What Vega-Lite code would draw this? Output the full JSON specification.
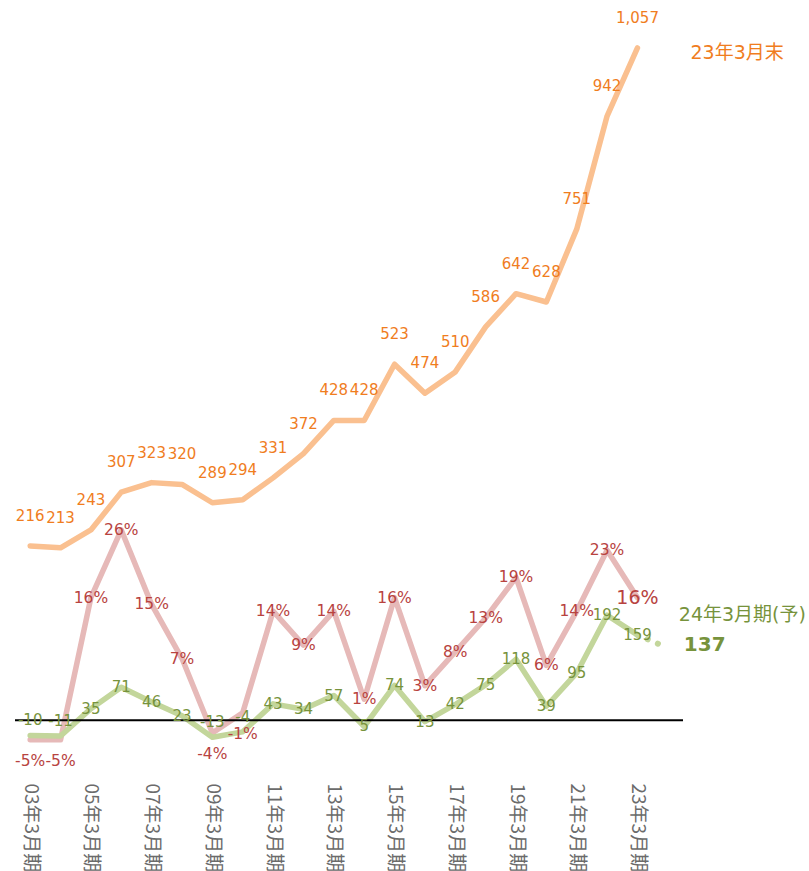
{
  "$schema": "https://vega.github.io/schema/vega-lite/v6.json",
  "autosize": {"type": "none"},
  "width": 668,
  "height": 760,
  "padding": {"left": 15, "top": 0, "right": 126, "bottom": 111},
  "background": "white",
  "config": {"view": {"stroke": null}},
  "datasets": {
    "main": [
      {"year": 2003, "total": 216, "rate": -0.05, "profit": -10},
      {"year": 2004, "total": 213, "rate": -0.05, "profit": -11},
      {"year": 2005, "total": 243, "rate": 0.16, "profit": 35},
      {"year": 2006, "total": 307, "rate": 0.26, "profit": 71},
      {"year": 2007, "total": 323, "rate": 0.15, "profit": 46},
      {"year": 2008, "total": 320, "rate": 0.07, "profit": 23},
      {"year": 2009, "total": 289, "rate": -0.04, "profit": -13},
      {"year": 2010, "total": 294, "rate": -0.01, "profit": -4},
      {"year": 2011, "total": 331, "rate": 0.14, "profit": 43},
      {"year": 2012, "total": 372, "rate": 0.09, "profit": 34},
      {"year": 2013, "total": 428, "rate": 0.14, "profit": 57},
      {"year": 2014, "total": 428, "rate": 0.01, "profit": 5},
      {"year": 2015, "total": 523, "rate": 0.16, "profit": 74},
      {"year": 2016, "total": 474, "rate": 0.03, "profit": 13},
      {"year": 2017, "total": 510, "rate": 0.08, "profit": 42},
      {"year": 2018, "total": 586, "rate": 0.13, "profit": 75},
      {"year": 2019, "total": 642, "rate": 0.19, "profit": 118},
      {"year": 2020, "total": 628, "rate": 0.06, "profit": 39},
      {"year": 2021, "total": 751, "rate": 0.14, "profit": 95},
      {"year": 2022, "total": 942, "rate": 0.23, "profit": 192},
      {"year": 2023, "total": 1057, "rate": 0.16, "profit": 159}
    ],
    "forecast": [
      {"year": 2023, "profit": 159},
      {"year": 2024, "profit": 137}
    ]
  },
  "resolve": {"scale": {"y": "independent"}},
  "layer": [
    {
      "data": {"name": "main"},
      "mark": {"type": "line", "color": "#FAC090", "strokeWidth": 5.5, "strokeCap": "round", "strokeJoin": "round"},
      "encoding": {
        "x": {"field": "year", "type": "quantitative", "scale": {"domain": [2002.5, 2024.5], "nice": false, "zero": false},
          "axis": {"values": [2003, 2005, 2007, 2009, 2011, 2013, 2015, 2017, 2019, 2021, 2023],
            "labelExpr": "slice(toString(datum.value), 2) + '年3月期'",
            "labelAngle": 90, "labelAlign": "left", "labelBaseline": "middle",
            "labelPadding": 23, "labelFontSize": 19, "labelColor": "#6b6b6b",
            "labelFont": "Noto Sans CJK JP", "labelOverlap": false, "labelFlush": false, "labelBound": false,
            "domain": false, "ticks": false, "grid": false, "title": null}},
        "y": {"field": "total", "type": "quantitative", "scale": {"domain": [-145.4, 1138], "nice": false, "zero": false}, "axis": null}
      }
    },
    {
      "data": {"name": "main"},
      "mark": {"type": "line", "color": "#E6B9B8", "strokeWidth": 5.5, "strokeCap": "round", "strokeJoin": "round"},
      "encoding": {
        "x": {"field": "year", "type": "quantitative", "scale": {"domain": [2002.5, 2024.5], "nice": false, "zero": false}},
        "y": {"field": "rate", "type": "quantitative", "scale": {"domain": [-0.0798, 1.0428], "nice": false, "zero": false}, "axis": null}
      }
    },
    {
      "data": {"name": "main"},
      "mark": {"type": "line", "color": "#C3D69B", "strokeWidth": 5.5, "strokeCap": "round", "strokeJoin": "round"},
      "encoding": {
        "x": {"field": "year", "type": "quantitative", "scale": {"domain": [2002.5, 2024.5], "nice": false, "zero": false}},
        "y": {"field": "profit", "type": "quantitative", "scale": {"domain": [-51.3, 1225.7], "nice": false, "zero": false}, "axis": null}
      }
    },
    {
      "data": {"name": "forecast"},
      "mark": {"type": "line", "color": "#C3D69B", "strokeWidth": 6, "strokeCap": "round", "strokeDash": [0.1, 11]},
      "encoding": {
        "x": {"field": "year", "type": "quantitative", "scale": {"domain": [2002.5, 2024.5], "nice": false, "zero": false}},
        "y": {"field": "profit", "type": "quantitative", "scale": {"domain": [-51.3, 1225.7], "nice": false, "zero": false}, "axis": null}
      }
    },
    {
      "data": {"values": [{"start": 2002.5, "end": 2024.5, "level": 15.6}]},
      "mark": {"type": "rule", "color": "#000000", "strokeWidth": 2},
      "encoding": {
        "x": {"field": "start", "type": "quantitative", "scale": {"domain": [2002.5, 2024.5], "nice": false, "zero": false}},
        "x2": {"field": "end"},
        "y": {"field": "level", "type": "quantitative", "scale": {"domain": [-51.3, 1225.7], "nice": false, "zero": false}, "axis": null}
      }
    },
    {
      "data": {"name": "main"},
      "transform": [{"calculate": "format(datum.total, ',')", "as": "lbl"}],
      "mark": {"type": "text", "color": "#F07D1E", "fontSize": 15, "font": "DejaVu Sans", "dy": -30, "baseline": "middle", "align": "center"},
      "encoding": {
        "x": {"field": "year", "type": "quantitative", "scale": {"domain": [2002.5, 2024.5], "nice": false, "zero": false}},
        "y": {"field": "total", "type": "quantitative", "scale": {"domain": [-145.4, 1138], "nice": false, "zero": false}, "axis": null},
        "text": {"field": "lbl", "type": "nominal"}
      }
    },
    {
      "data": {"name": "main"},
      "transform": [{"filter": "datum.rate >= 0"}, {"calculate": "toString(round(datum.rate * 100)) + '%'", "as": "lbl"}],
      "mark": {"type": "text", "color": "#B8433F", "font": "DejaVu Sans", "baseline": "middle", "align": "center"},
      "encoding": {
        "x": {"field": "year", "type": "quantitative", "scale": {"domain": [2002.5, 2024.5], "nice": false, "zero": false}},
        "y": {"field": "rate", "type": "quantitative", "scale": {"domain": [-0.0798, 1.0428], "nice": false, "zero": false}, "axis": null},
        "text": {"field": "lbl", "type": "nominal"},
        "size": {"condition": {"test": "datum.year == 2023", "value": 19}, "value": 15.5}
      }
    },
    {
      "data": {"name": "main"},
      "transform": [{"filter": "datum.rate < 0"}, {"calculate": "toString(round(datum.rate * 100)) + '%'", "as": "lbl"}],
      "mark": {"type": "text", "color": "#B8433F", "fontSize": 15.5, "font": "DejaVu Sans", "baseline": "middle", "align": "center", "dy": 21},
      "encoding": {
        "x": {"field": "year", "type": "quantitative", "scale": {"domain": [2002.5, 2024.5], "nice": false, "zero": false}},
        "y": {"field": "rate", "type": "quantitative", "scale": {"domain": [-0.0798, 1.0428], "nice": false, "zero": false}, "axis": null},
        "text": {"field": "lbl", "type": "nominal"}
      }
    },
    {
      "data": {"name": "main"},
      "transform": [{"filter": "datum.profit >= 0"}, {"calculate": "toString(datum.profit)", "as": "lbl"}],
      "mark": {"type": "text", "color": "#77933C", "fontSize": 15, "font": "DejaVu Sans", "baseline": "middle", "align": "center"},
      "encoding": {
        "x": {"field": "year", "type": "quantitative", "scale": {"domain": [2002.5, 2024.5], "nice": false, "zero": false}},
        "y": {"field": "profit", "type": "quantitative", "scale": {"domain": [-51.3, 1225.7], "nice": false, "zero": false}, "axis": null},
        "text": {"field": "lbl", "type": "nominal"}
      }
    },
    {
      "data": {"name": "main"},
      "transform": [{"filter": "datum.profit < 0"}, {"calculate": "toString(datum.profit)", "as": "lbl"}],
      "mark": {"type": "text", "color": "#77933C", "fontSize": 15, "font": "DejaVu Sans", "baseline": "middle", "align": "center", "dy": -15},
      "encoding": {
        "x": {"field": "year", "type": "quantitative", "scale": {"domain": [2002.5, 2024.5], "nice": false, "zero": false}},
        "y": {"field": "profit", "type": "quantitative", "scale": {"domain": [-51.3, 1225.7], "nice": false, "zero": false}, "axis": null},
        "text": {"field": "lbl", "type": "nominal"}
      }
    },
    {
      "data": {"name": "main"},
      "transform": [{"filter": "datum.year == 2023"}],
      "mark": {"type": "text", "color": "#F07D1E", "fontSize": 19, "font": "DejaVu Sans, Noto Sans CJK JP", "baseline": "middle", "align": "left", "dx": 53, "dy": 5},
      "encoding": {
        "x": {"field": "year", "type": "quantitative", "scale": {"domain": [2002.5, 2024.5], "nice": false, "zero": false}},
        "y": {"field": "total", "type": "quantitative", "scale": {"domain": [-145.4, 1138], "nice": false, "zero": false}, "axis": null},
        "text": {"value": "23年3月末"}
      }
    },
    {
      "data": {"name": "forecast"},
      "transform": [{"filter": "datum.year == 2024"}],
      "mark": {"type": "text", "color": "#77933C", "fontSize": 19, "font": "DejaVu Sans, Noto Sans CJK JP", "baseline": "middle", "align": "left", "dx": 11, "dy": -33},
      "encoding": {
        "x": {"field": "year", "type": "quantitative", "scale": {"domain": [2002.5, 2024.5], "nice": false, "zero": false}},
        "y": {"field": "profit", "type": "quantitative", "scale": {"domain": [-51.3, 1225.7], "nice": false, "zero": false}, "axis": null},
        "text": {"value": "24年3月期(予)"}
      }
    },
    {
      "data": {"name": "forecast"},
      "transform": [{"filter": "datum.year == 2024"}],
      "mark": {"type": "text", "color": "#77933C", "fontSize": 20, "fontWeight": "bold", "font": "DejaVu Sans", "baseline": "middle", "align": "left", "dx": 16, "dy": -3},
      "encoding": {
        "x": {"field": "year", "type": "quantitative", "scale": {"domain": [2002.5, 2024.5], "nice": false, "zero": false}},
        "y": {"field": "profit", "type": "quantitative", "scale": {"domain": [-51.3, 1225.7], "nice": false, "zero": false}, "axis": null},
        "text": {"value": "137"}
      }
    }
  ]
}
